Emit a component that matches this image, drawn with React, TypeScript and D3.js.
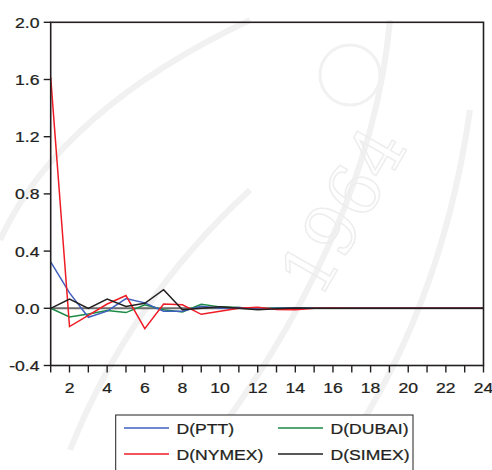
import React from "react";
import * as d3 from "d3";

// Impulse responses over 24 periods
const periods = d3.range(1, 25);
const seriesNames = ["D(PTT)", "D(DUBAI)", "D(NYMEX)", "D(SIMEX)"];
const ptt = [0.325, 0.108, -0.063, -0.02, 0.068, 0.038, -0.02, -0.02, 0.015, 0.0, 0.005, -0.005, 0.0, 0.002, 0.0, 0.0, 0.0, 0.0, 0.0, 0.0, 0.0, 0.0, 0.0, 0.0];
const dubai = [0.0, -0.06, -0.04, -0.016, -0.03, 0.025, -0.01, -0.025, 0.028, 0.01, 0.005, -0.005, 0.002, 0.0, 0.001, 0.0, 0.0, 0.0, 0.0, 0.0, 0.0, 0.0, 0.0, 0.0];
const nymex = [1.615, -0.128, -0.05, 0.03, 0.089, -0.142, 0.03, 0.025, -0.042, -0.02, 0.0, 0.008, -0.008, -0.01, 0.0, 0.002, 0.0, 0.0, 0.0, 0.0, 0.0, 0.0, 0.0, 0.0];
const simex = [0.0, 0.065, 0.0, 0.065, 0.013, 0.035, 0.13, -0.01, 0.0, 0.01, 0.0, -0.01, -0.004, 0.002, 0.0, 0.0, 0.0, 0.0, 0.0, 0.0, 0.0, 0.0, 0.0, 0.0];
const yTicks = [-0.4, 0.0, 0.4, 0.8, 1.2, 1.6, 2.0];
const xTickLabels = [2, 4, 6, 8, 10, 12, 14, 16, 18, 20, 22, 24];

const colors: Record<string, string> = {
  "D(PTT)": "#3f5fbf",
  "D(DUBAI)": "#1b8a45",
  "D(NYMEX)": "#ee1c25",
  "D(SIMEX)": "#231f20",
};

const font = "'Liberation Sans', Arial, sans-serif";
const FS = 15.3;
const SX = 1.15; // horizontal stretch of the lettering

type LabelProps = { x: number; y: number; anchor?: "start" | "middle" | "end"; children: React.ReactNode };
function Label({ x, y, anchor = "start", children }: LabelProps) {
  return (
    <text
      transform={`translate(${x},${y}) scale(${SX},1)`}
      textAnchor={anchor}
      fontSize={FS}
      fill="#231f20"
      stroke="#231f20"
      strokeWidth={0.25}
    >
      {children}
    </text>
  );
}

export default function App() {
  const left = 50.7;
  const right = 483.5;
  const top = 22.3;
  const bottom = 365.5;

  const x = d3.scaleLinear().domain([1, 24]).range([left, right]);
  const y = d3.scaleLinear().domain([-0.4, 2.0]).range([bottom, top]);

  const line = d3
    .line<number>()
    .x((_, i) => x(periods[i]))
    .y((d) => y(d));

  const data: Record<string, number[]> = {
    "D(PTT)": ptt,
    "D(DUBAI)": dubai,
    "D(NYMEX)": nymex,
    "D(SIMEX)": simex,
  };
  const drawOrder = ["D(DUBAI)", "D(PTT)", "D(NYMEX)", "D(SIMEX)"];

  const legendItems = [
    { name: seriesNames[0], lx: 124, ty: 432 },
    { name: seriesNames[1], lx: 278, ty: 432 },
    { name: seriesNames[2], lx: 124, ty: 458 },
    { name: seriesNames[3], lx: 278, ty: 458 },
  ];

  return (
    <svg
      width={492}
      height={470}
      style={{ position: "absolute", left: 0, top: 0, background: "#fff" }}
      fontFamily={font}
    >
      {/* faint seal in the background */}
      <g fill="none" stroke="#f1f1f1" strokeWidth={6}>
        <path d="M 0 240 Q 60 110 250 20" />
        <path d="M 70 450 Q 130 300 250 190" />
        <path d="M 390 20 Q 370 240 190 470" />
        <path d="M 470 110 Q 440 320 330 470" />
        <circle cx={350} cy={75} r={30} strokeWidth={3} />
      </g>
      <text
        x={0}
        y={0}
        transform="translate(320,300) rotate(-60)"
        fontSize={70}
        fontFamily="'DejaVu Serif', serif"
        fill="none"
        stroke="#ededed"
        strokeWidth={1.5}
      >
        1964
      </text>

      {/* zero line */}
      <line x1={left} x2={right} y1={y(0)} y2={y(0)} stroke="#6d6d6d" strokeWidth={2} />

      {drawOrder.map((name) => (
        <path
          key={name}
          d={line(data[name]) ?? ""}
          fill="none"
          stroke={colors[name]}
          strokeWidth={1.5}
        />
      ))}

      {/* frame */}
      <rect x={left} y={top} width={right - left} height={bottom - top} fill="none" stroke="#231f20" strokeWidth={1.6} />

      {/* y axis */}
      {yTicks.map((t) => (
        <g key={t}>
          <line x1={left - 7} x2={left} y1={y(t)} y2={y(t)} stroke="#231f20" strokeWidth={1.4} />
          <Label x={39.5} y={y(t) + 5.4} anchor="end">
            {t.toFixed(1)}
          </Label>
        </g>
      ))}

      {/* x axis */}
      {periods.map((p) => (
        <line key={p} x1={x(p)} x2={x(p)} y1={bottom} y2={bottom + 7} stroke="#231f20" strokeWidth={1.4} />
      ))}
      {xTickLabels.map((p) => (
        <Label key={p} x={x(p)} y={392.5} anchor="middle">
          {p}
        </Label>
      ))}

      {/* legend */}
      <rect x={115.7} y={415} width={297.3} height={70} fill="#fff" stroke="#231f20" strokeWidth={1} />
      {legendItems.map((it) => (
        <g key={it.name}>
          <line x1={it.lx} x2={it.lx + 45} y1={it.ty - 4} y2={it.ty - 4} stroke={colors[it.name]} strokeWidth={1.4} />
          <Label x={it.lx + 52.5} y={it.ty + 1.5}>
            {it.name}
          </Label>
        </g>
      ))}
    </svg>
  );
}
